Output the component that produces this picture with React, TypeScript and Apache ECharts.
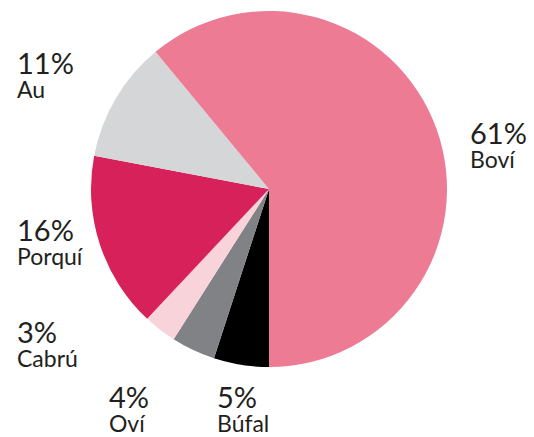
import React, { useEffect, useRef } from "react";
import * as echarts from "echarts";

const categories = ["Búfal", "Oví", "Cabrú", "Porquí", "Au", "Boví"];
const values = [5, 4, 3, 16, 11, 61];
const colors = ["#000000", "#808285", "#F8D3D9", "#D6215A", "#D5D6D8", "#EC7B93"];
const labelPos: [number, number][] = [
  [217, 381],
  [109, 381],
  [17, 316],
  [17, 214],
  [17, 47],
  [470, 117],
];

export default function App() {
  const ref = useRef<HTMLDivElement>(null);
  useEffect(() => {
    if (!ref.current) return;
    const chart = echarts.init(ref.current, null, { renderer: "svg" });
    chart.setOption({
      animation: false,
      backgroundColor: "#ffffff",
      series: [
        {
          type: "pie",
          center: [269, 189],
          radius: [0, 178],
          startAngle: -90,
          clockwise: true,
          silent: true,
          data: categories.map((name, i) => ({
            name,
            value: values[i],
            itemStyle: { color: colors[i] },
          })),
          label: {
            show: true,
            overflow: "none",
            formatter: (p: any) => `{p|${p.value}%}\n{n|${p.name}}`,
            rich: {
              p: {
                fontFamily: "Lato",
                fontSize: 29,
                color: "#231F20",
                lineHeight: 31,
              },
              n: {
                fontFamily: "Lato",
                fontSize: 23,
                color: "#231F20",
                lineHeight: 22,
              },
            },
          },
          labelLine: { show: false },
          labelLayout: (params: any) => {
            const [x, y] = labelPos[params.dataIndex];
            return { x, y, align: "left", verticalAlign: "top" };
          },
        },
      ],
    });
    return () => chart.dispose();
  }, []);
  return (
    <div
      ref={ref}
      style={{ position: "fixed", left: 0, top: 0, width: 534, height: 437 }}
    />
  );
}
